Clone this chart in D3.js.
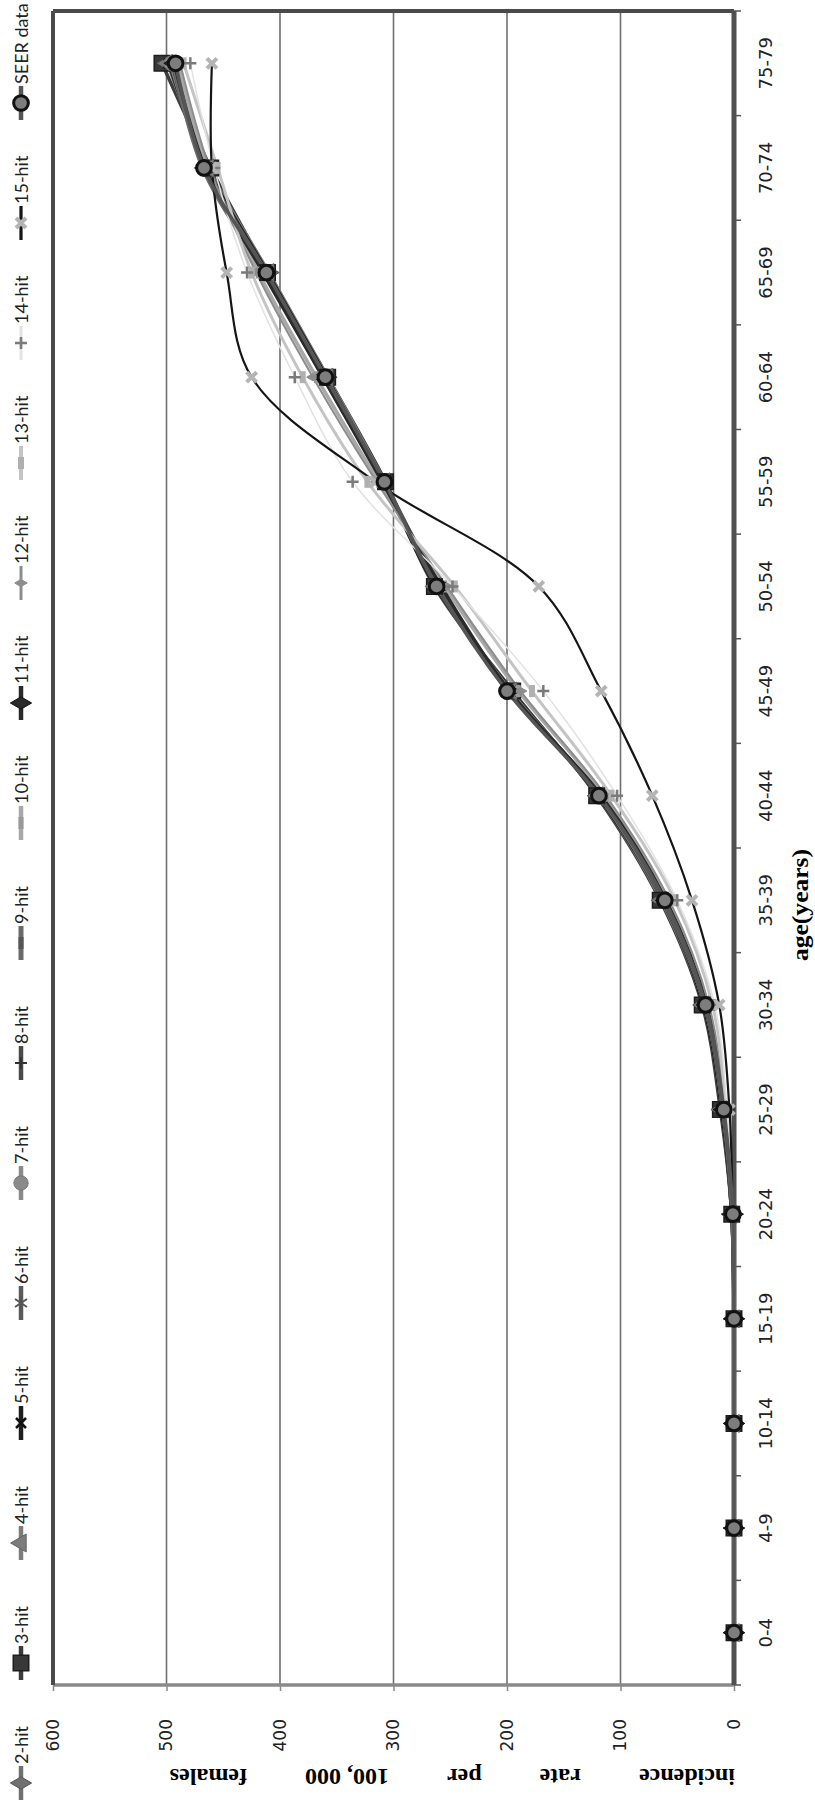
<!DOCTYPE html>
<html>
<head>
<meta charset="utf-8">
<script src="https://cdn.jsdelivr.net/npm/d3@7"></script>
<style>
	body { margin: 0; background: #fff; }
	svg { display: block; }
</style>
</head>
<body>
<svg id="chart" width="815" height="1800"></svg>
<script>
/* data */
const ages = ["0-4", "4-9", "10-14", "15-19", "20-24", "25-29", "30-34", "35-39", "40-44", "45-49", "50-54", "55-59", "60-64", "65-69", "70-74", "75-79"];
const valueTicks = [0, 100, 200, 300, 400, 500, 600];

const hit2  = [0, 0, 0, 0, 2, 11, 27, 63, 120, 197, 262, 309, 359, 410, 465, 496];
const hit3  = [0, 0, 0, 0, 2, 12, 28, 65, 121, 195, 264, 307, 358, 411, 461, 504];
const hit4  = [0, 0, 0, 0, 2, 11, 27, 64, 120, 196, 263, 308, 358, 410, 463, 499];
const hit5  = [0, 0, 0, 0, 2, 11, 27, 63, 120, 196, 263, 309, 359, 411, 464, 498];
const hit6  = [0, 0, 0, 0, 2, 10, 26, 63, 119, 197, 262, 309, 360, 412, 465, 497];
const hit7  = [0, 0, 0, 0, 1, 10, 26, 62, 119, 197, 261, 308, 360, 413, 466, 496];
const hit8  = [0, 0, 0, 0, 1, 10, 26, 62, 118, 198, 260, 308, 361, 413, 467, 495];
const hit9  = [0, 0, 0, 0, 1, 9, 25, 61, 118, 199, 259, 309, 362, 414, 468, 494];
const hit10 = [0, 0, 0, 0, 1, 9, 24, 58, 114, 190, 255, 313, 368, 419, 464, 490];
const hit11 = [0, 0, 0, 0, 1, 9, 24, 60, 117, 198, 258, 310, 362, 415, 466, 493];
const hit12 = [0, 0, 0, 0, 1, 8, 22, 57, 113, 188, 253, 315, 371, 421, 462, 488];
const hit13 = [0, 0, 0, 0, 1, 7, 19, 52, 108, 178, 246, 323, 380, 425, 455, 485];
const hit14 = [0, 0, 0, 0, 1, 6, 17, 50, 103, 168, 248, 336, 387, 429, 458, 479];
const hit15 = [0, 0, 0, 0, 1, 4, 13, 37, 72, 117, 172, 316, 425, 447, 460, 460];
const seer  = [0, 0, 0, 0, 1, 9, 25, 61, 119, 200, 262, 308, 360, 412, 467, 492];

const seriesNames = ["2-hit", "3-hit", "4-hit", "5-hit", "6-hit", "7-hit", "8-hit", "9-hit", "10-hit", "11-hit", "12-hit", "13-hit", "14-hit", "15-hit", "SEER data"];
const seriesValues = [hit2, hit3, hit4, hit5, hit6, hit7, hit8, hit9, hit10, hit11, hit12, hit13, hit14, hit15, seer];

const yTitleWords = ["incidence", "rate", "per", "100, 000", "females"];
const xTitle = "age(years)";

// line / marker look of each series, same order as seriesNames
const looks = [
	{ line: "#707070", w: 3.5, m: "diamond",  fill: "#707070", stroke: "#555", sw: 1 },
	{ line: "#3c3c3c", w: 3.5, m: "square",   fill: "#383838", stroke: "#1e1e1e", sw: 1.5 },
	{ line: "#7c7c7c", w: 3.5, m: "triangle", fill: "#7c7c7c", stroke: "#666", sw: 1 },
	{ line: "#1e1e1e", w: 3.5, m: "cross",    fill: "none",    stroke: "#111", sw: 2.5 },
	{ line: "#5a5a5a", w: 3.5, m: "star",     fill: "none",    stroke: "#555", sw: 2 },
	{ line: "#8a8a8a", w: 3.5, m: "circle",   fill: "#8a8a8a", stroke: "#777", sw: 1 },
	{ line: "#4a4a4a", w: 3.5, m: "plus",     fill: "none",    stroke: "#333", sw: 2 },
	{ line: "#6a6a6a", w: 4,   m: "dash",     fill: "none",    stroke: "#555", sw: 5 },
	{ line: "#a8a8a8", w: 3.5, m: "dash",     fill: "none",    stroke: "#999", sw: 5 },
	{ line: "#2a2a2a", w: 3.5, m: "diamond",  fill: "#2a2a2a", stroke: "#111", sw: 1 },
	{ line: "#8c8c8c", w: 2,   m: "dot",      fill: "#8c8c8c", stroke: "#8c8c8c", sw: 1 },
	{ line: "#c4c4c4", w: 3,   m: "dash",     fill: "none",    stroke: "#b0b0b0", sw: 6 },
	{ line: "#e2e2e2", w: 1.5, m: "plus",     fill: "none",    stroke: "#7a7a7a", sw: 2.5 },
	{ line: "#151515", w: 2.2, m: "cross",    fill: "none",    stroke: "#b4b4b4", sw: 4 },
	{ line: "#555555", w: 3.5, m: "seer",     fill: "#7d7d7d", stroke: "#111", sw: 3 }
];

const markerPath = {
	diamond: d3.symbol(d3.symbolDiamond, 130)(),
	square: d3.symbol(d3.symbolSquare, 240)(),
	triangle: d3.symbol(d3.symbolTriangle, 140)(),
	circle: d3.symbol(d3.symbolCircle, 160)(),
	seer: d3.symbol(d3.symbolCircle, 170)(),
	dot: d3.symbol(d3.symbolDiamond, 45)(),
	plus: "M-6,0H6M0,-6V6",
	cross: "M-5,-5L5,5M5,-5L-5,5",
	star: "M-7,0H7M-4,-6L4,6M4,-6L-4,6",
	dash: "M-6,0H6"
};

const svg = d3.select("#chart");
// the chart is laid out landscape (1800 wide, 815 tall) and turned a quarter to the left
const g = svg.append("g").attr("transform", "translate(0,1800) rotate(-90)");

const x = d3.scaleBand().domain(ages).range([115, 1789]);
const y = d3.scaleLinear().domain([0, 600]).range([734, 53]);
const [x0, x1] = x.range();

// gridlines
g.append("g").selectAll("line")
	.data(valueTicks.filter(t => t > 0 && t < 600))
	.join("line")
	.attr("x1", x0).attr("x2", x1)
	.attr("y1", d => y(d)).attr("y2", d => y(d))
	.attr("stroke", "#6f6f6f").attr("stroke-width", 1.6);

// value axis
const yAxis = g.append("g")
	.attr("transform", `translate(${x0},0)`)
	.call(d3.axisLeft(y).tickValues(valueTicks).tickSize(6).tickPadding(28));
yAxis.select(".domain").remove();
yAxis.selectAll(".tick line").attr("stroke", "#888").attr("stroke-width", 1.5);
yAxis.selectAll("text")
	.attr("font-family", "'DejaVu Sans', sans-serif").attr("font-size", 17).attr("fill", "#222");

// plot frame
g.append("line").attr("x1", x0).attr("x2", x0).attr("y1", y(600)).attr("y2", y(0))
	.attr("stroke", "#8a8a8a").attr("stroke-width", 3.5);
g.append("line").attr("x1", x0).attr("x2", x1).attr("y1", y(600)).attr("y2", y(600))
	.attr("stroke", "#4a4a4a").attr("stroke-width", 4);
g.append("line").attr("x1", x1).attr("x2", x1).attr("y1", y(600)).attr("y2", y(0))
	.attr("stroke", "#4a4a4a").attr("stroke-width", 4);

// category axis
const xAxis = g.append("g")
	.attr("transform", `translate(0,${y(0)})`)
	.call(d3.axisBottom(x).tickSize(0).tickPadding(25));
xAxis.select(".domain").remove();
xAxis.selectAll("text")
	.attr("font-family", "'DejaVu Sans', sans-serif").attr("font-size", 18).attr("fill", "#222");
g.append("g").selectAll("line")
	.data(ages.map(a => x(a)).concat([x1]))
	.join("line")
	.attr("x1", d => d).attr("x2", d => d)
	.attr("y1", y(0)).attr("y2", y(0) + 7)
	.attr("stroke", "#555").attr("stroke-width", 1.5);
g.append("line").attr("x1", x0).attr("x2", x1).attr("y1", y(0)).attr("y2", y(0))
	.attr("stroke", "#505050").attr("stroke-width", 5);

// series
const line = d3.line()
	.x((d, i) => x(ages[i]) + x.bandwidth() / 2)
	.y(d => y(d))
	.curve(d3.curveCatmullRom.alpha(0.5));

const plot = g.append("g");
seriesValues.forEach((vals, k) => {
	plot.append("path")
		.attr("d", line(vals))
		.attr("fill", "none")
		.attr("stroke", looks[k].line)
		.attr("stroke-width", looks[k].w)
		.attr("stroke-linejoin", "round");
});
seriesValues.forEach((vals, k) => {
	const lk = looks[k];
	plot.append("g").selectAll("path")
		.data(vals)
		.join("path")
		.attr("transform", (d, i) => `translate(${x(ages[i]) + x.bandwidth() / 2},${y(d)})`)
		.attr("d", markerPath[lk.m])
		.attr("fill", lk.fill)
		.attr("stroke", lk.stroke)
		.attr("stroke-width", lk.sw);
});

// legend, one equal slot per entry
const slot = 120;
const legend = g.append("g").selectAll("g")
	.data(seriesNames)
	.join("g")
	.attr("transform", (d, i) => `translate(${17 + i * slot},21)`);
legend.append("line")
	.attr("x1", -17).attr("x2", 17)
	.attr("stroke", (d, i) => looks[i].line)
	.attr("stroke-width", (d, i) => Math.max(looks[i].w + 1, 3));
legend.append("path")
	.attr("d", (d, i) => markerPath[looks[i].m])
	.attr("fill", (d, i) => looks[i].fill)
	.attr("stroke", (d, i) => looks[i].stroke)
	.attr("stroke-width", (d, i) => looks[i].sw);
legend.append("text")
	.attr("x", 19).attr("y", 6.5)
	.attr("font-family", "Lato, sans-serif").attr("font-size", 18).attr("fill", "#222")
	.text(d => d);

// axis titles
const serif = "'Liberation Serif', 'Times New Roman', serif";
const yTitle = g.append("text")
	.attr("transform", "translate(31,735) rotate(-90)")
	.attr("font-family", serif)
	.attr("font-weight", "bold").attr("font-size", 24);
yTitle.selectAll("tspan")
	.data(yTitleWords)
	.join("tspan")
	.attr("dx", (d, i) => i ? 58 : 0)
	.text(d => d);

g.append("text")
	.attr("x", 895).attr("y", 808)
	.attr("text-anchor", "middle")
	.attr("font-family", serif)
	.attr("font-weight", "bold").attr("font-size", 23)
	.attr("textLength", 112).attr("lengthAdjust", "spacingAndGlyphs")
	.text(xTitle);
</script>
</body>
</html>
